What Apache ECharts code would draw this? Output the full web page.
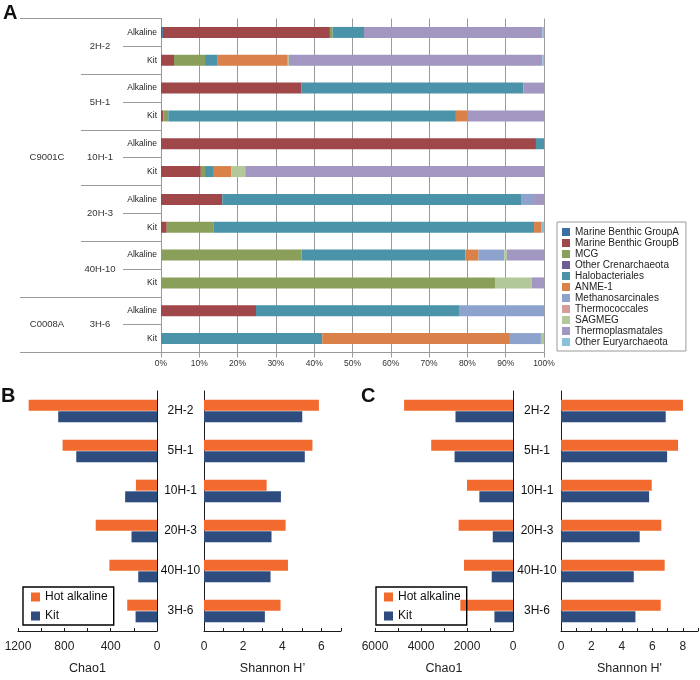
<!DOCTYPE html>
<html><head><meta charset="utf-8">
<script src="https://cdn.jsdelivr.net/npm/echarts@6/dist/echarts.min.js"></script>
<style>html,body{margin:0;padding:0;background:#fff}#c{width:700px;height:680px}</style>
</head><body><div id="c"></div>
<script>
// ---------- Panel A data ----------
const sites = ['2H-2', '5H-1', '10H-1', '20H-3', '40H-10', '3H-6'];
const treatments = ['Alkaline', 'Kit'];
const cores = ['C9001C', 'C0008A'];
const coreSiteCounts = [5, 1];
const taxa = ['Marine Benthic GroupA', 'Marine Benthic GroupB', 'MCG', 'Other Crenarchaeota',
  'Halobacteriales', 'ANME-1', 'Methanosarcinales', 'Thermococcales', 'SAGMEG',
  'Thermoplasmatales', 'Other Euryarchaeota'];
const taxaColors = ['#3d6ea3', '#a0474a', '#8aa05a', '#6d5b96', '#4a93a8', '#d98148',
  '#8da3ce', '#d69b9b', '#b2c89b', '#a197c0', '#8cc1db'];
// rows: 2H-2 Alk, Kit, 5H-1 Alk, Kit, 10H-1 Alk, Kit, 20H-3 Alk, Kit, 40H-10 Alk, Kit, 3H-6 Alk, Kit
const mbgA      = [0.5, 0, 0, 0, 0, 0, 0, 0, 0, 0, 0, 0];
const mbgB      = [43.6, 3.4, 36.7, 0.6, 97.9, 10.4, 16.0, 1.5, 0, 0, 24.8, 0];
const mcg       = [0.7, 8.1, 0, 1.3, 0, 1.1, 0, 12.3, 36.7, 87.2, 0, 0];
const otherCren = [0, 0, 0, 0, 0, 0, 0, 0, 0, 0, 0, 0];
const halo      = [8.2, 3.3, 57.9, 75.1, 2.1, 2.3, 78.0, 83.6, 42.8, 0, 53.0, 42.1];
const anme1     = [0, 18.3, 0, 3.0, 0, 4.5, 0, 2.0, 3.4, 0, 0, 49.0];
const methano   = [0, 0, 0, 0, 0, 0, 3.4, 0, 6.7, 0, 22.2, 8.1];
const thermoco  = [0, 0, 0, 0, 0, 0, 0, 0, 0, 0, 0, 0];
const sagmeg    = [0, 0.3, 0, 0, 0, 3.7, 0, 0, 0.7, 9.6, 0, 0.8];
const thermopl  = [46.6, 66.2, 5.4, 20.0, 0, 78.0, 2.6, 0, 9.7, 3.2, 0, 0];
const otherEury = [0.4, 0.4, 0, 0, 0, 0, 0, 0.6, 0, 0, 0, 0];
const taxaValues = [mbgA, mbgB, mcg, otherCren, halo, anme1, methano, thermoco, sagmeg, thermopl, otherEury];

// ---------- Panels B and C data ----------
const groups = ['Hot alkaline', 'Kit'];
const groupColors = ['#f26a2e', '#2f4c7e'];
const chaoB_alk = [1108, 815, 182, 529, 411, 257];
const chaoB_kit = [853, 697, 275, 220, 162, 185];
const shanB_alk = [5.87, 5.54, 3.20, 4.17, 4.29, 3.91];
const shanB_kit = [5.02, 5.15, 3.93, 3.45, 3.40, 3.11];
const chaoC_alk = [4735, 3556, 2000, 2365, 2130, 2290];
const chaoC_kit = [2500, 2540, 1462, 880, 925, 808];
const shanC_alk = [8.01, 7.69, 5.96, 6.59, 6.81, 6.55];
const shanC_kit = [6.88, 6.97, 5.79, 5.17, 4.78, 4.89];

// ---------- build ----------
const FONT = '"Liberation Sans", Arial, Helvetica, sans-serif';
const GRAY = '#9a9a9a';
const BLACK = '#1a1a1a';
const rowLabels = sites.flatMap(() => treatments);
const coreLabels = sites.map(() => '');
const coreStarts = [];
{
  let s = 0;
  cores.forEach((c, i) => {
    coreStarts.push(s);
    coreLabels[s + Math.floor((coreSiteCounts[i] - 1) / 2)] = c;
    s += coreSiteCounts[i];
  });
}

const chart = echarts.init(document.getElementById('c'), null, { renderer: 'canvas' });

const gridTop = 391, gridH = 240;
const grids = [
  { left: 161, top: 18.5, width: 383, height: 334 },
  { left: 18, top: gridTop, width: 139, height: gridH },
  { left: 204, top: gridTop, width: 137, height: gridH },
  { left: 375, top: gridTop, width: 138, height: gridH },
  { left: 561, top: gridTop, width: 137, height: gridH }
].map(g => Object.assign({ outerBoundsMode: 'none', containLabel: false }, g));

function valAxisBC(grid, max, interval, labelStep, inverse, name) {
  return {
    type: 'value', gridIndex: grid, min: 0, max: max, interval: interval, inverse: inverse,
    name: name, nameLocation: 'middle', nameGap: 31,
    nameTextStyle: { fontSize: 12.5, color: '#222', fontFamily: FONT },
    axisLine: { show: true, onZero: false, lineStyle: { color: BLACK, width: 1 } },
    axisTick: { show: true, inside: true, length: 3, lineStyle: { color: BLACK } },
    axisLabel: {
      fontSize: 12, color: '#222', fontFamily: FONT, margin: 10,
      formatter: v => (Math.round(v) % labelStep === 0 ? String(Math.round(v)) : '')
    },
    splitLine: { show: false }
  };
}
function catAxisBC(grid, position, showLabel, margin) {
  return {
    type: 'category', gridIndex: grid, data: sites, inverse: true, position: position,
    axisLine: { show: true, lineStyle: { color: BLACK, width: 1 } },
    axisTick: { show: false },
    axisLabel: { show: showLabel, interval: 0, margin: margin, align: 'center',
      fontSize: 12, color: '#111', fontFamily: FONT }
  };
}

const seriesA = taxa.map((name, i) => ({
  name: name, type: 'bar', stack: 'total', xAxisIndex: 0, yAxisIndex: 0,
  barWidth: 11, itemStyle: { color: taxaColors[i] },
  data: taxaValues[i]
}));

function pair(xi, yi, alk, kit) {
  return [alk, kit].map((d, i) => ({
    name: groups[i], type: 'bar', xAxisIndex: xi, yAxisIndex: yi,
    barWidth: 11, barGap: '6%', itemStyle: { color: groupColors[i] }, data: d
  }));
}

const titleStyle = { fontSize: 20, fontWeight: 'bold', color: '#111', fontFamily: FONT };
const option = {
  backgroundColor: '#fff',
  animation: false,
  textStyle: { fontFamily: FONT },
  title: [
    { text: 'A', left: 3, top: 3, padding: 0, textStyle: titleStyle },
    { text: 'B', left: 1, top: 386, padding: 0, textStyle: titleStyle },
    { text: 'C', left: 361, top: 386, padding: 0, textStyle: titleStyle }
  ],
  legend: [
    {
      data: taxa, orient: 'vertical', left: 557, top: 222, icon: 'rect',
      itemWidth: 8, itemHeight: 8, itemGap: 1, padding: [5, 7, 4, 5],
      borderColor: GRAY, borderWidth: 1, selectedMode: false,
      textStyle: { fontSize: 10, color: '#222', fontFamily: FONT }
    },
    {
      data: groups, orient: 'vertical', left: 23, top: 587, icon: 'rect',
      itemWidth: 9, itemHeight: 9, itemGap: 7, padding: [4, 6, 3, 8],
      borderColor: '#000', borderWidth: 1.4, selectedMode: false,
      textStyle: { fontSize: 12, color: '#111', fontFamily: FONT }
    },
    {
      data: groups, orient: 'vertical', left: 376, top: 587, icon: 'rect',
      itemWidth: 9, itemHeight: 9, itemGap: 7, padding: [4, 6, 3, 8],
      borderColor: '#000', borderWidth: 1.4, selectedMode: false,
      textStyle: { fontSize: 12, color: '#111', fontFamily: FONT }
    }
  ],
  grid: grids,
  xAxis: [
    {
      type: 'value', gridIndex: 0, min: 0, max: 100, interval: 10,
      axisLine: { show: true, onZero: false, lineStyle: { color: GRAY } },
      axisTick: { show: true, length: 5, lineStyle: { color: GRAY } },
      axisLabel: { formatter: '{value}%', fontSize: 8.5, color: '#333', margin: 7, fontFamily: FONT },
      splitLine: { show: true, lineStyle: { color: GRAY, width: 1 } }
    },
    valAxisBC(1, 1200, 200, 400, true, 'Chao1'),
    valAxisBC(2, 7, 1, 2, false, 'Shannon H\u2019'),
    valAxisBC(3, 6000, 1000, 2000, true, 'Chao1'),
    valAxisBC(4, 9, 1, 2, false, 'Shannon H\'')
  ],
  yAxis: [
    {
      type: 'category', gridIndex: 0, data: rowLabels, inverse: true, position: 'left',
      axisLine: { show: true, lineStyle: { color: GRAY } },
      axisTick: { show: false },
      axisLabel: { interval: 0, fontSize: 8.5, color: '#222', margin: 4, fontFamily: FONT }
    },
    {
      type: 'category', gridIndex: 0, data: sites, inverse: true, position: 'left',
      axisLine: { show: false },
      axisTick: { show: true, alignWithLabel: true, length: 38, lineStyle: { color: GRAY } },
      axisLabel: { interval: 0, margin: 61, align: 'center', fontSize: 9.5, color: '#333', fontFamily: FONT }
    },
    {
      type: 'category', gridIndex: 0, data: sites, inverse: true, position: 'left',
      axisLine: { show: false },
      axisTick: { show: true, interval: 0, length: 80, lineStyle: { color: GRAY } },
      axisLabel: { show: false }
    },
    {
      type: 'category', gridIndex: 0, data: coreLabels, inverse: true, position: 'left',
      axisLine: { show: false },
      axisTick: { show: true, interval: (i) => coreStarts.includes(i), length: 141, lineStyle: { color: GRAY } },
      axisLabel: { interval: 0, margin: 114, align: 'center', fontSize: 9.5, color: '#333', fontFamily: FONT }
    },
    catAxisBC(1, 'right', false, 0),
    catAxisBC(2, 'left', true, 23.5),
    catAxisBC(3, 'right', false, 0),
    catAxisBC(4, 'left', true, 24)
  ],
  series: [
    ...seriesA,
    ...pair(1, 4, chaoB_alk, chaoB_kit),
    ...pair(2, 5, shanB_alk, shanB_kit),
    ...pair(3, 6, chaoC_alk, chaoC_kit),
    ...pair(4, 7, shanC_alk, shanC_kit)
  ]
};
chart.setOption(option);
</script>
</body></html>
